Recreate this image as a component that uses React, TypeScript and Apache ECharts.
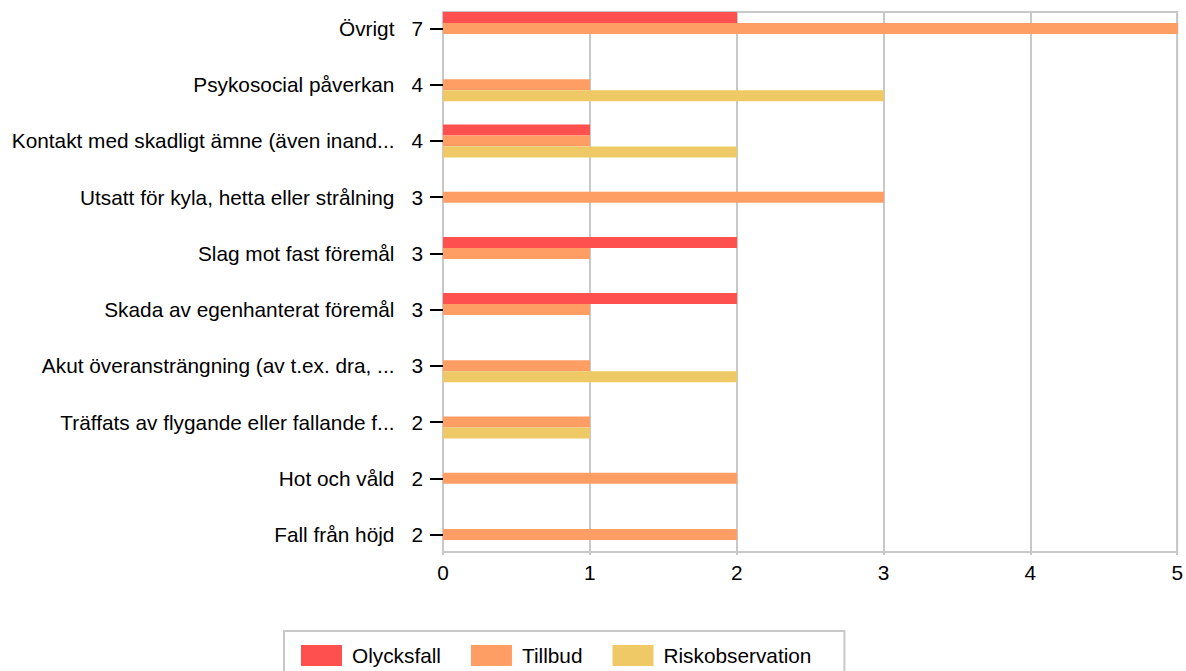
import React, { useEffect, useRef } from "react";
import * as echarts from "echarts";

const categories = [
  "Övrigt",
  "Psykosocial påverkan",
  "Kontakt med skadligt ämne (även inand...",
  "Utsatt för kyla, hetta eller strålning",
  "Slag mot fast föremål",
  "Skada av egenhanterat föremål",
  "Akut överansträngning (av t.ex. dra, ...",
  "Träffats av flygande eller fallande f...",
  "Hot och våld",
  "Fall från höjd",
];
const olycksfall = [2, 0, 1, 0, 2, 2, 0, 0, 0, 0];
const tillbud = [5, 1, 1, 3, 1, 1, 1, 1, 2, 2];
const riskobservation = [0, 3, 2, 0, 0, 0, 2, 1, 0, 0];
const totals = [7, 4, 4, 3, 3, 3, 3, 2, 2, 2];
const xTicks = [0, 1, 2, 3, 4, 5];

const FONT = "'Liberation Sans', Arial, sans-serif";
const GRID_COLOR = "#c8c8c8";
const FS = 20.8;

export default function App() {
  const ref = useRef<HTMLDivElement>(null);
  useEffect(() => {
    document.body.style.margin = "0";
    const chart = echarts.init(ref.current!, null, { renderer: "svg" });
    const toNull = (a: number[]) => a.map((v) => (v === 0 ? null : v));
    chart.setOption({
      animation: false,
      textStyle: { fontFamily: FONT },
      grid: [
        { left: 443, width: 735, top: 0.4, height: 562.2, containLabel: false },
        {
          left: 443,
          width: 735,
          top: 12,
          height: 540,
          show: true,
          borderColor: GRID_COLOR,
          borderWidth: 2,
          backgroundColor: "transparent",
        },
      ],
      xAxis: [
        { gridIndex: 0, type: "value", min: 0, max: 5, show: false },
        {
          gridIndex: 1,
          type: "value",
          min: xTicks[0],
          max: xTicks[xTicks.length - 1],
          interval: 1,
          axisLine: { show: true, lineStyle: { color: GRID_COLOR, width: 2 } },
          axisTick: { show: true, length: 3, lineStyle: { color: GRID_COLOR, width: 2 } },
          splitLine: { show: true, lineStyle: { color: GRID_COLOR, width: 2 } },
          axisLabel: { color: "#000", fontSize: FS, fontFamily: FONT, margin: 10 },
        },
      ],
      yAxis: [
        {
          gridIndex: 0,
          type: "category",
          inverse: true,
          data: categories,
          axisLine: { show: false },
          axisTick: {
            show: true,
            alignWithLabel: true,
            length: 13,
            lineStyle: { color: "#000", width: 2 },
          },
          splitLine: { show: false },
          axisLabel: {
            margin: 20,
            color: "#000",
            fontSize: FS,
            fontFamily: FONT,
            formatter: (v: string, i: number) => `{n|${v}}{t|${totals[i]}}`,
            rich: {
              n: { color: "#000", fontSize: FS, fontFamily: FONT },
              t: { color: "#000", fontSize: FS, fontFamily: FONT, padding: [0, 0, 0, 17] },
            },
          },
        },
        { gridIndex: 1, type: "value", min: 0, max: 1, show: false },
      ],
      legend: {
        data: ["Olycksfall", "Tillbud", "Riskobservation"],
        left: 284,
        top: 631,
        icon: "rect",
        itemWidth: 41,
        itemHeight: 21,
        itemGap: 30,
        borderColor: GRID_COLOR,
        borderWidth: 2,
        padding: [14, 33, 14, 17],
        textStyle: { color: "#000", fontSize: FS, fontFamily: FONT, padding: [0, 0, 0, 5] },
      },
      series: [
        {
          name: "Olycksfall",
          type: "bar",
          xAxisIndex: 0,
          yAxisIndex: 0,
          data: toNull(olycksfall),
          barWidth: 11,
          barGap: "0%",
          itemStyle: { color: "#ff5050" },
        },
        {
          name: "Tillbud",
          type: "bar",
          xAxisIndex: 0,
          yAxisIndex: 0,
          data: toNull(tillbud),
          barWidth: 11,
          barGap: "0%",
          itemStyle: { color: "#ff9e64" },
        },
        {
          name: "Riskobservation",
          type: "bar",
          xAxisIndex: 0,
          yAxisIndex: 0,
          data: toNull(riskobservation),
          barWidth: 11,
          barGap: "0%",
          itemStyle: { color: "#eec966" },
        },
        {
          type: "line",
          xAxisIndex: 1,
          yAxisIndex: 1,
          data: [],
          silent: true,
        },
      ],
    });
    return () => chart.dispose();
  }, []);
  return <div ref={ref} style={{ width: 1186, height: 671 }} />;
}
